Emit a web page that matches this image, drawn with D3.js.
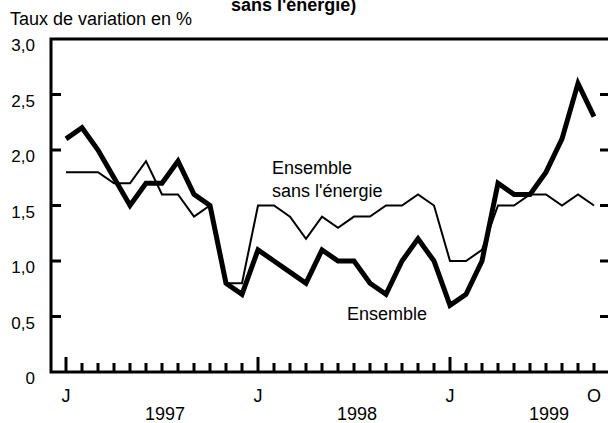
<!DOCTYPE html>
<html>
<head>
<meta charset="utf-8">
<script src="https://cdn.jsdelivr.net/npm/d3@7"></script>
<style>
  body { margin: 0; background: #fff; }
  svg { display: block; font-family: "Liberation Sans", Arial, sans-serif; }
</style>
</head>
<body>
<svg id="chart"></svg>
<script>
// Monthly data, January 1997 to October 1999
const months = d3.range(34);
const ensemble = [2.1, 2.2, 2.0, 1.75, 1.5, 1.7, 1.7, 1.9, 1.6, 1.5, 0.8, 0.7,
                  1.1, 1.0, 0.9, 0.8, 1.1, 1.0, 1.0, 0.8, 0.7, 1.0, 1.2, 1.0,
                  0.6, 0.7, 1.0, 1.7, 1.6, 1.6, 1.8, 2.1, 2.6, 2.3];
const sansEnergie = [1.8, 1.8, 1.8, 1.7, 1.7, 1.9, 1.6, 1.6, 1.4, 1.5, 0.8, 0.8,
                     1.5, 1.5, 1.4, 1.2, 1.4, 1.3, 1.4, 1.4, 1.5, 1.5, 1.6, 1.5,
                     1.0, 1.0, 1.1, 1.5, 1.5, 1.6, 1.6, 1.5, 1.6, 1.5];
const yTicks = [0, 0.5, 1.0, 1.5, 2.0, 2.5, 3.0];
const monthLabels = [{ i: 0, t: "J" }, { i: 12, t: "J" }, { i: 24, t: "J" }, { i: 33, t: "O" }];
const yearLabels = [{ i: 6, t: "1997" }, { i: 18, t: "1998" }, { i: 30, t: "1999" }];

const width = 608;
const height = 423;
const margin = { top: 39, right: -2, bottom: 51, left: 51 };

const svg = d3.select("#chart")
    .attr("width", width)
    .attr("height", height);

const x = d3.scaleLinear()
    .domain([0, 33])
    .range([66, 594]);

const y = d3.scaleLinear()
    .domain([0, 3])
    .range([height - margin.bottom, margin.top]);

// Title (cut at top, as in the source) and y axis caption
svg.append("text")
    .attr("x", 231).attr("y", 11)
    .attr("font-size", 18).attr("font-weight", "bold")
    .text("sans l'énergie)");

svg.append("text")
    .attr("x", 10).attr("y", 25)
    .attr("font-size", 18)
    .text("Taux de variation en %");

// Frame
svg.append("rect")
    .attr("x", margin.left).attr("y", margin.top)
    .attr("width", width - margin.right - margin.left)
    .attr("height", y(0) - margin.top)
    .attr("fill", "none")
    .attr("stroke", "#000")
    .attr("stroke-width", 3);

// Y ticks on both sides
svg.selectAll(".ytickL")
    .data(yTicks.slice(1, -1))
    .join("line")
    .attr("x1", margin.left).attr("x2", margin.left + 10)
    .attr("y1", d => y(d)).attr("y2", d => y(d))
    .attr("stroke", "#000").attr("stroke-width", 3);

svg.selectAll(".ytickR")
    .data(yTicks.slice(1, -1))
    .join("line")
    .attr("x1", 600).attr("x2", width)
    .attr("y1", d => y(d)).attr("y2", d => y(d))
    .attr("stroke", "#000").attr("stroke-width", 3);

svg.selectAll(".ylab")
    .data(yTicks)
    .join("text")
    .attr("x", 35)
    .attr("y", d => y(d) + 12)
    .attr("text-anchor", "end")
    .attr("font-size", 17)
    .text(d => d === 0 ? "0" : d3.format(".1f")(d).replace(".", ","));

// Month ticks on the bottom axis
svg.selectAll(".xtick")
    .data(months)
    .join("line")
    .attr("x1", d => x(d)).attr("x2", d => x(d))
    .attr("y1", y(0))
    .attr("y2", d => d % 12 === 0 ? y(0) - 15 : y(0) - 9)
    .attr("stroke", "#000").attr("stroke-width", 3);

svg.selectAll(".mlab")
    .data(monthLabels)
    .join("text")
    .attr("x", d => x(d.i)).attr("y", 402)
    .attr("text-anchor", "middle")
    .attr("font-size", 18)
    .text(d => d.t);

svg.selectAll(".ylabel")
    .data(yearLabels)
    .join("text")
    .attr("x", d => x(d.i) + 3).attr("y", 420)
    .attr("text-anchor", "middle")
    .attr("font-size", 18)
    .text(d => d.t);

// Lines
const line = d3.line()
    .x((d, i) => x(i))
    .y(d => y(d));

svg.append("path")
    .datum(sansEnergie)
    .attr("d", line)
    .attr("fill", "none")
    .attr("stroke", "#000")
    .attr("stroke-width", 2);

svg.append("path")
    .datum(ensemble)
    .attr("d", line)
    .attr("fill", "none")
    .attr("stroke", "#000")
    .attr("stroke-width", 5)
    .attr("stroke-linejoin", "miter");

// Annotations
svg.append("text")
    .attr("x", 272).attr("y", 174)
    .attr("font-size", 18)
    .text("Ensemble");

svg.append("text")
    .attr("x", 272).attr("y", 197)
    .attr("font-size", 18)
    .text("sans l'énergie");

svg.append("text")
    .attr("x", 347).attr("y", 320)
    .attr("font-size", 18)
    .text("Ensemble");
</script>
</body>
</html>
